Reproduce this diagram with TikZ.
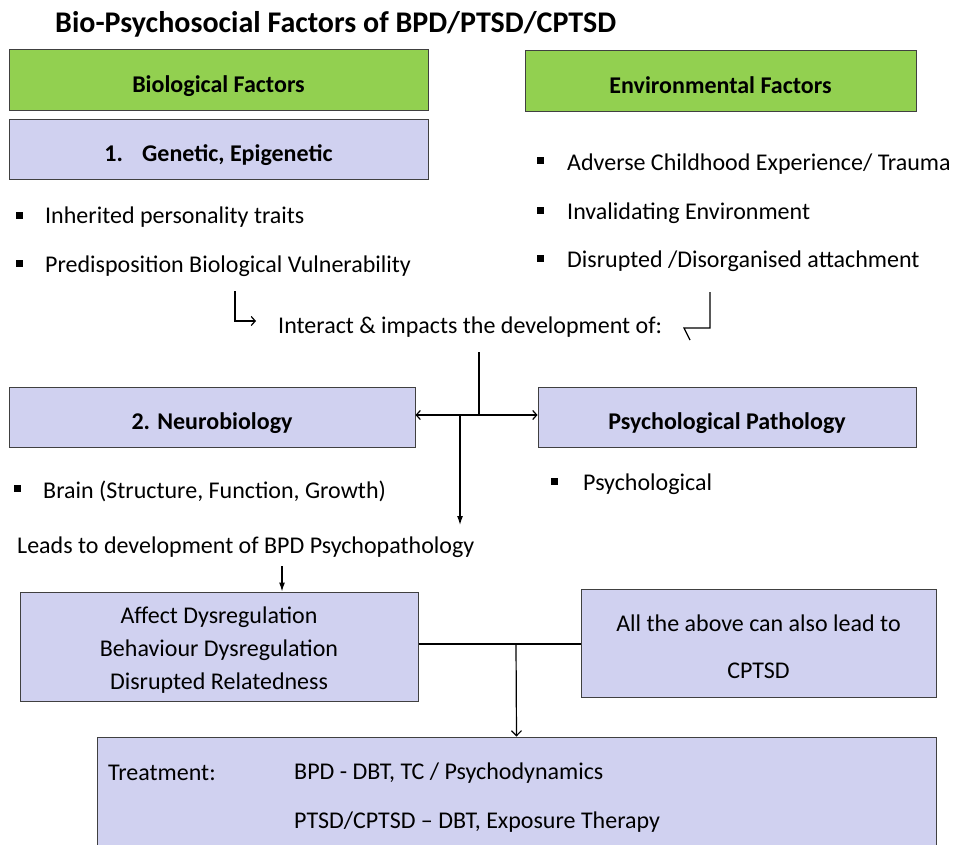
\documentclass[tikz,border=0pt]{standalone}
\usepackage{fontspec}
\setmainfont{Carlito}
\usetikzlibrary{arrows.meta,calc}
\definecolor{boxgreen}{HTML}{92D050}
\definecolor{boxlav}{HTML}{D0D1F0}
\definecolor{boxline}{HTML}{404040}
% lower the printed text without changing the box it occupies
\newcommand\dropby[2]{\raisebox{-#1}[\height][\depth]{#2}}
\tikzset{
  greenbox/.style={draw=boxline, line width=1pt, fill=boxgreen, inner sep=0pt, font=\fontsize{24}{28}\selectfont\bfseries},
  lavbox/.style={draw=boxline, line width=1pt, fill=boxlav, inner sep=0pt, font=\fontsize{24}{28}\selectfont\bfseries},
  plainbox/.style={draw=boxline, line width=1pt, fill=boxlav, inner sep=0pt, font=\fontsize{24}{33}\selectfont},
  txt/.style={anchor=west, inner sep=0pt, font=\fontsize{24}{28}\selectfont},
  sq/.style={fill=black, inner sep=0pt, minimum size=7pt},
  conn/.style={line width=1.2pt},
  barb/.style={-{Straight Barb[length=4pt,width=9pt]}},
  tip/.style={-{Latex[length=9pt,width=6pt]}}
}
\begin{document}
\begin{tikzpicture}[x=1pt,y=-1pt]
\useasboundingbox (0,0) rectangle (955,845);

% title
\node[anchor=west, inner sep=0pt, font=\fontsize{30}{34}\selectfont\bfseries] (title) at (55,24) {Bio-Psychosocial Factors of BPD/PTSD/CPTSD};

% headers
\node[greenbox, minimum width=419pt, minimum height=61pt] (bio) at (218.5,80.5) {\dropby{5.5pt}{Biological Factors}};
\node[greenbox, minimum width=391pt, minimum height=61pt] (env) at (720.5,81.5) {\dropby{4pt}{Environmental Factors}};
\node[lavbox, minimum width=419pt, minimum height=60pt] (gen) at (218.5,150) {\dropby{5pt}{1.\hspace{0.8em}Genetic, Epigenetic}};

% biological bullets
\node[sq] (b1) at (19,215) {};
\node[txt] (t1) at (45,217) {Inherited personality traits};
\node[sq] (b2) at (19,263) {};
\node[txt] (t2) at (45,266) {Predisposition Biological Vulnerability};

% environmental bullets
\node[sq] (b3) at (540,161) {};
\node[txt] (t3) at (567,164) {Adverse Childhood Experience/ Trauma};
\node[sq] (b4) at (540,210) {};
\node[txt] (t4) at (567,213) {Invalidating Environment};
\node[sq] (b5) at (540,258) {};
\node[txt] (t5) at (567,261) {Disrupted /Disorganised attachment};

% interaction
\node[txt] (inter) at (278,327) {Interact \& impacts the development of:};
\coordinate (e1s) at (235,291);
\coordinate (e1e) at (256,321);
\draw[conn, barb] (e1s) |- (e1e);
\coordinate (e2s) at (710,292);
\coordinate (e2c) at (710,328);
\coordinate (e2e) at (684,328);
\coordinate (e2b) at (690,340);
\draw[conn] (e2s) -- (e2c) -- (e2e) -- (e2b);

% second tier
\node[lavbox, minimum width=406pt, minimum height=60pt] (neuro) at (212,417) {\dropby{6pt}{2. Neurobiology}};
\node[lavbox, minimum width=378pt, minimum height=60pt] (psych) at (727,417) {\dropby{6pt}{Psychological Pathology}};
\node[sq] (b6) at (17,488) {};
\node[txt] (t6) at (43,491) {Brain (Structure, Function, Growth)};
\node[sq] (b7) at (554,481) {};
\node[txt] (t7) at (583,484) {Psychological};

\coordinate (c0) at (479,352);
\coordinate (c1) at (479,415);
\draw[conn, {Straight Barb[length=4pt,width=9pt]}-{Straight Barb[length=4pt,width=9pt]}] (neuro.east |- c1) -- (psych.west |- c1);
\draw[line width=2pt] (c0) -- (c1) -- ($(psych.west |- c1)+(-6,0)$);
\coordinate (c2) at (460,415);
\coordinate (c3) at (460,525);
\draw[conn, tip] (c2) -- (c3);

\node[txt] (leads) at (17,547) {Leads to development of BPD Psychopathology};

% third tier
\node[plainbox, minimum width=398pt, minimum height=109pt] (affect) at (219,646.5)
  {\dropby{3pt}{\begin{tabular}{@{}c@{}}Affect Dysregulation\\Behaviour Dysregulation\\Disrupted Relatedness\end{tabular}}};
\node[plainbox, minimum width=355pt, minimum height=108pt] (cptsd) at (758.5,643)
  {\dropby{5pt}{\begin{tabular}{@{}c@{}}All the above can also lead to\\[14pt]CPTSD\end{tabular}}};
\coordinate (l0) at (282,566);
\draw[conn, tip] (l0) -- (l0 |- affect.north);
\coordinate (j0) at (516,644);
\draw[conn] (affect.east |- j0) -- (cptsd.west |- j0);

% treatment
\node[draw=boxline, line width=1pt, fill=boxlav, minimum width=839pt, minimum height=112pt, inner sep=0pt] (treat) at (516.5,793) {};
\draw[conn, -{Straight Barb[length=5pt,width=10pt]}] (j0) -- (treat.north);
\node[txt] (tr0) at (108,773) {Treatment:};
\node[txt] (tr1) at (294,773) {BPD - DBT, TC / Psychodynamics};
\node[txt] (tr2) at (294,822) {PTSD/CPTSD – DBT, Exposure Therapy};
\end{tikzpicture}
\end{document}
